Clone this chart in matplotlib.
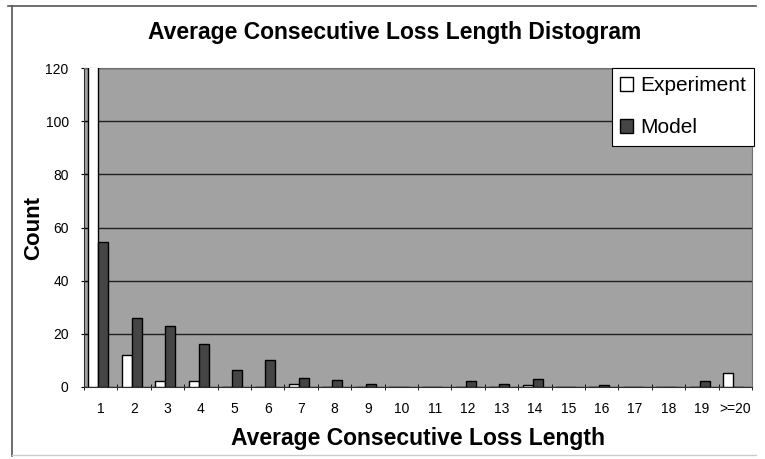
import numpy as np
import matplotlib.pyplot as plt
from matplotlib.lines import Line2D

# values (experiment bar at 1 goes past the top of the axis)
categories = ['1', '2', '3', '4', '5', '6', '7', '8', '9', '10',
              '11', '12', '13', '14', '15', '16', '17', '18', '19', '>=20']
experiment = [150, 12, 2.4, 2.4, 0, 0, 1, 0, 0, 0,
              0, 0, 0, 0.7, 0, 0, 0, 0, 0, 5.4]
model = [54.5, 26, 23, 16, 6.4, 10, 3.3, 2.6, 1, 0,
         0, 2.4, 1, 3, 0, 0.8, 0, 0, 2.3, 0]
yticks = [0, 20, 40, 60, 80, 100, 120]

plt.rcParams['font.family'] = ['Liberation Sans', 'DejaVu Sans']

fig = plt.figure(figsize=(7.65, 4.59), dpi=100)
ax = fig.add_axes([84 / 765, 1 - 387 / 459, (752 - 84) / 765, (387 - 68) / 459])

x = np.arange(len(categories))
w = 0.3
shift = -0.07
ax.bar(x + shift - w / 2, experiment, w, color='white', edgecolor='black', linewidth=1.0,
       label='Experiment', zorder=3)
ax.bar(x + shift + w / 2, model, w, color='#454545', edgecolor='black', linewidth=1.0,
       label='Model', zorder=3)

ax.set_facecolor('#a2a2a2')
ax.set_xlim(-0.5, len(categories) - 0.5)
ax.set_ylim(0, 120)
ax.set_yticks(yticks)
ax.yaxis.grid(True, color='#202020', linewidth=1.0)
ax.set_axisbelow(True)

ax.set_xticks(x)
ax.set_xticklabels(categories, fontsize=10)
ax.set_xticks(np.arange(len(categories) + 1) - 0.5, minor=True)
ax.tick_params(axis='x', which='major', length=0, pad=11)
ax.tick_params(axis='x', which='minor', length=4, direction='inout')
ax.tick_params(axis='y', labelsize=10, length=4, direction='inout', pad=9)

for s in ['top', 'right']:
    ax.spines[s].set_color('#707070')
for s in ['left', 'bottom']:
    ax.spines[s].set_color('#303030')

ax.set_xlabel('Average Consecutive Loss Length', fontsize=16.5, fontweight='bold', labelpad=8)
ax.set_ylabel('Count', fontsize=16, fontweight='bold', labelpad=1)
fig.text(0.516, 1 - 32 / 459, 'Average Consecutive Loss Length Distogram',
         fontsize=16.5, fontweight='bold', ha='center', va='center')

leg = ax.legend(loc='upper right', bbox_to_anchor=(1.003, 1.0), fontsize=15,
                frameon=True, fancybox=False, edgecolor='black', framealpha=1,
                handlelength=0.6, handleheight=0.6, handletextpad=0.35,
                borderpad=0.4, labelspacing=1.1, borderaxespad=0)
leg.get_frame().set_linewidth(0.8)

# frame lines around the chart, like the pasted picture
fig.add_artist(Line2D([8 / 765, 756 / 765], [1 - 6 / 459, 1 - 6 / 459], color='#555555', lw=1.2))
fig.add_artist(Line2D([12 / 765, 12 / 765], [1 - 6 / 459, 1 - 456 / 459], color='#555555', lw=1.2))
fig.add_artist(Line2D([12 / 765, 756 / 765], [1 - 455 / 459, 1 - 455 / 459], color='#cccccc', lw=1.0))

fig.savefig('out.png', dpi=100)
